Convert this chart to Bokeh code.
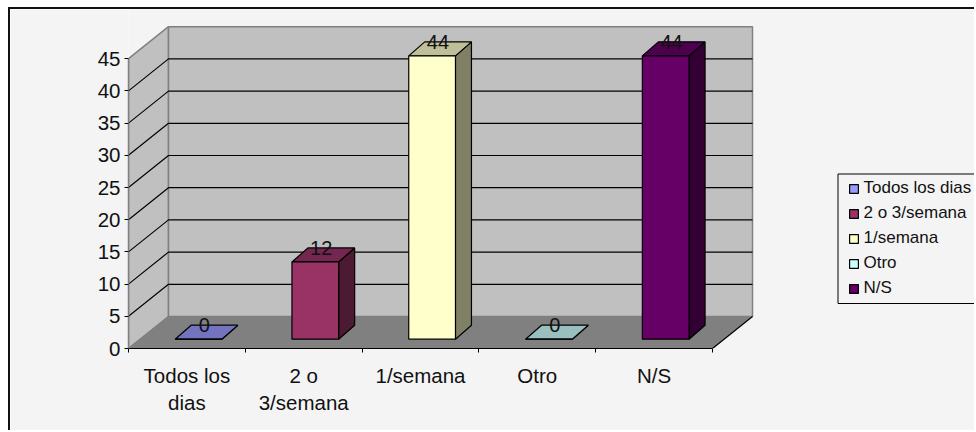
from bokeh.plotting import figure
from bokeh.models import Range1d, LinearAxis, FixedTicker, Legend, LegendItem, BoxAnnotation
from bokeh.core.properties import value
from bokeh.embed import file_html
from bokeh.resources import INLINE

categories = ["Todos los\ndias", "2 o\n3/semana", "1/semana", "Otro", "N/S"]
legend_labels = ["Todos los dias", "2 o 3/semana", "1/semana", "Otro", "N/S"]
values = [0, 12, 44, 0, 44]
front_colors = ["#9999FF", "#993366", "#FFFFCC", "#CCFFFF", "#660066"]
top_colors = ["#7373BF", "#732650", "#BFBF99", "#99BFBF", "#4D004D"]
side_colors = ["#4D4D80", "#4D1A33", "#808066", "#668080", "#330033"]
y_ticks = [0, 5, 10, 15, 20, 25, 30, 35, 40, 45]

FONT = "Liberation Sans"
ORIGIN_X, ORIGIN_Y = 10, 9             # canvas origin on the page, after margin and border
W, H = 976 - ORIGIN_X, 432 - ORIGIN_Y
LEFT, BOTTOM = 128 - ORIGIN_X, 84
PX_X, PX_Y = 116.8, 6.44
DX, DY = 40 / PX_X, 32 / PX_Y          # depth of the wall box in data units
BDX, BDY = 16 / PX_X, 14 / PX_Y        # depth of each bar
FX, FY = 0.29 * DX + 0.3, 0.29 * DY    # front of bar, from the category's edge
BW = 0.4
N = len(categories)
YMAX = y_ticks[-1]

p = figure(width=W, height=H, output_backend="svg", toolbar_location=None,
           x_range=Range1d(0, (W - LEFT) / PX_X), y_range=Range1d(0, (H - BOTTOM) / PX_Y),
           x_axis_location=None, y_axis_location=None,
           min_border_left=LEFT, min_border_bottom=BOTTOM, min_border_top=0, min_border_right=0,
           background_fill_color="#F4F4F4", border_fill_color="#F4F4F4", outline_line_color=None)
p.grid.visible = False
p.styles = {"margin-left": "8px", "margin-top": "7px",
            "border-left": "2px solid #111111", "border-top": "2px solid #111111"}

# walls
p.patch([0, DX, DX, 0], [0, DY, YMAX + DY, YMAX], fill_color="#C0C0C0", line_color="#808080", line_width=1.5)
p.quad(left=DX, right=N + DX, bottom=DY, top=YMAX + DY, fill_color="#C0C0C0", line_color="#808080", line_width=1.5)
p.patch([0, N, N + DX, DX], [0, 0, DY, DY], fill_color="#808080", line_color=None)

# gridlines
inner = y_ticks[1:-1]
p.multi_line([[0, DX, N + DX] for _ in inner], [[t, t + DY, t + DY] for t in inner],
             line_color="#000000", line_width=1.2)
p.line([0, DX], [0, DY], line_color="#808080", line_width=1.2)
p.line([N, N + DX], [0, DY], line_color="#000000", line_width=1.2)

# bars
items = []
for i, (v, fc, tc, sc, lab) in enumerate(zip(values, front_colors, top_colors, side_colors, legend_labels)):
    x0, x1 = i + FX, i + FX + BW
    y0, y1 = FY, FY + v
    p.patch([x1, x1 + BDX, x1 + BDX, x1], [y0, y0 + BDY, y1 + BDY, y1], fill_color=sc, line_color="#000000", line_width=1.2)
    p.patch([x0, x1, x1 + BDX, x0 + BDX], [y1, y1, y1 + BDY, y1 + BDY], fill_color=tc, line_color="#000000", line_width=1.2)
    r = p.quad(left=[x0], right=[x1], bottom=[y0], top=[y1], fill_color=fc, line_color="#000000", line_width=1.2)
    items.append(LegendItem(label=lab, renderers=[r]))
    p.text([(x0 + x1) / 2 + 0.05], [y1 + BDY], text=[str(v)], text_font=value(FONT), text_font_size="20px",
           text_color="#111111", text_align="center", text_baseline="middle")

# axes
ya = LinearAxis(ticker=FixedTicker(ticks=y_ticks), bounds=(0, YMAX))
ya.axis_line_color = "#808080"
ya.axis_line_width = 1.5
ya.major_tick_line_color = "#000000"
ya.major_tick_out = 4
ya.major_tick_in = 0
ya.minor_tick_line_color = None
ya.major_label_text_font = FONT
ya.major_label_text_font_size = "20.5px"
ya.major_label_text_color = "#111111"
ya.major_label_standoff = 4
p.add_layout(ya, "left")

centers = [i + 0.5 for i in range(N)]
xa = LinearAxis(ticker=FixedTicker(ticks=centers, minor_ticks=list(range(N + 1))), bounds=(0, N))
xa.major_label_overrides = {c: lab for c, lab in zip(centers, categories)}
xa.axis_line_color = "#000000"
xa.axis_line_width = 1.2
xa.major_tick_line_color = None
xa.minor_tick_line_color = "#000000"
xa.minor_tick_out = 4
xa.minor_tick_in = 0
xa.major_label_text_font = FONT
xa.major_label_text_font_size = "20.5px"
xa.major_label_text_color = "#111111"
xa.major_label_standoff = 9
p.add_layout(xa, "below")

# legend frame: tighter than the legend's own padding allows
p.add_layout(BoxAnnotation(left=709.5 / PX_X, right=860 / PX_X, bottom=45 / PX_Y, top=174.5 / PX_Y,
                           fill_color="#F4F4F4", fill_alpha=1, line_color="#000000", line_width=1, line_alpha=1))
legend = Legend(items=items, location=(719.5, 49.7), orientation="vertical",
                background_fill_alpha=0, border_line_color=None,
                label_text_font=FONT, label_text_font_size="17px", label_text_color="#111111",
                glyph_width=11, glyph_height=11, label_height=11, spacing=5,
                padding=10, margin=0, label_standoff=5)
p.add_layout(legend, "center")

open("out.html", "w").write(file_html(p, INLINE))
